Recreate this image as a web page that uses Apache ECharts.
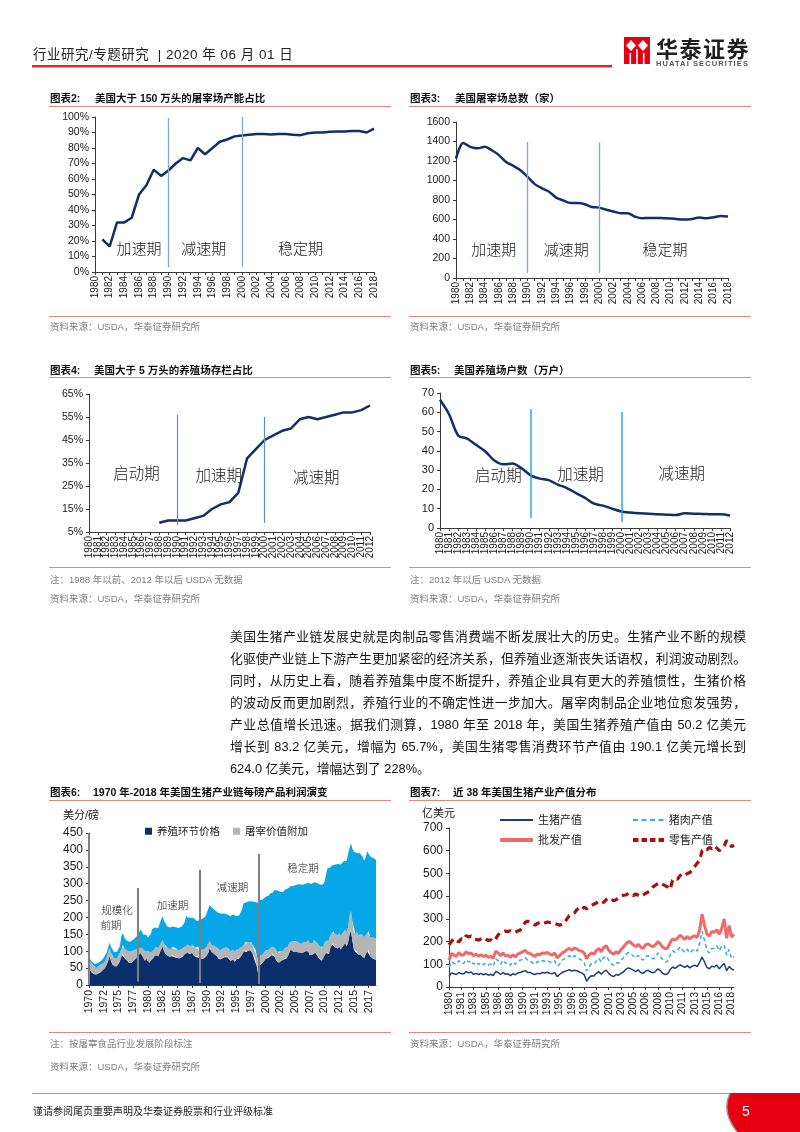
<!DOCTYPE html>
<html><head><meta charset="utf-8">
<script src="https://cdn.jsdelivr.net/npm/echarts@6/dist/echarts.min.js"></script>
<style>
html,body{margin:0;padding:0;background:#fff;}
#page{position:relative;width:800px;height:1132px;overflow:hidden;background:#fff;font-family:"Liberation Sans",Arial,"Noto Sans CJK SC",sans-serif;}
#chart{position:absolute;left:0;top:0;width:800px;height:1132px;}
.a{position:absolute;white-space:nowrap;line-height:1;}
.ttl{font-size:10.5px;font-weight:bold;color:#111;}
.src{font-size:9.5px;color:#7f7f7f;}
.hl{position:absolute;height:1px;background:#e4877b;}
.unit{font-size:11px;color:#222;}
.para{position:absolute;left:230px;width:516px;font-size:12.8px;line-height:13px;color:#151515;text-align:justify;text-align-last:justify;}
</style></head>
<body>
<div id="page">
<div id="chart"></div>

<!-- header -->
<div class="a" style="left:33px;top:48px;font-size:13.5px;color:#222;letter-spacing:0.5px;">行业研究/专题研究 &nbsp;| 2020 年 06 月 01 日</div>
<div style="position:absolute;left:32px;top:65px;width:580px;height:1.5px;background:#e0251b;"></div>
<div style="position:absolute;left:32px;top:66.5px;width:580px;height:1px;background:#d9b0aa;"></div>
<svg style="position:absolute;left:0;top:0" width="800" height="1132">
  <rect x="624" y="37" width="26" height="27" fill="#e60012"/>
  <polygon points="631,40 636,45.5 631,51 626,45.5" fill="#fff"/>
  <polygon points="643,40 648,45.5 643,51 638,45.5" fill="#fff"/>
  <rect x="629.5" y="53" width="1.6" height="11" fill="#fff"/>
  <rect x="636.2" y="49" width="1.6" height="15" fill="#fff"/>
  <rect x="642.9" y="53" width="1.6" height="11" fill="#fff"/>
  <path d="M730 1093 L800 1093 L800 1132 L737 1132 Q721 1112 730 1093 Z" fill="#e50012"/>
  <path d="M730 1093 Q721 1112 737 1132" fill="none" stroke="#9a9a9a" stroke-width="1.5"/>
</svg>
<div class="a" style="left:656px;top:36px;font-size:22px;font-weight:bold;color:#1e1e1e;font-family:'Noto Sans CJK SC',sans-serif;letter-spacing:1.5px;">华泰证券</div>
<div class="a" style="left:656px;top:60px;font-size:7.5px;font-weight:bold;color:#555;letter-spacing:1.1px;">HUATAI SECURITIES</div>

<!-- chart titles -->
<div class="a ttl" style="left:50px;top:92.7px;">图表2:</div>
<div class="a ttl" style="left:95px;top:92.7px;">美国大于 150 万头的屠宰场产能占比</div>
<div class="hl" style="left:49px;top:105.5px;width:342px;"></div>
<div class="a ttl" style="left:410px;top:92.7px;">图表3:</div>
<div class="a ttl" style="left:455px;top:92.7px;">美国屠宰场总数（家）</div>
<div class="hl" style="left:409px;top:105.5px;width:342px;"></div>

<div class="hl" style="left:49px;top:315.5px;width:342px;"></div>
<div class="a src" style="left:50px;top:321.5px;">资料来源：USDA，华泰证券研究所</div>
<div class="hl" style="left:409px;top:315.5px;width:342px;"></div>
<div class="a src" style="left:410px;top:321.5px;">资料来源：USDA，华泰证券研究所</div>

<div class="a ttl" style="left:50px;top:364.7px;">图表4:</div>
<div class="a ttl" style="left:94px;top:364.7px;">美国大于 5 万头的养殖场存栏占比</div>
<div class="hl" style="left:49px;top:377px;width:342px;"></div>
<div class="a ttl" style="left:410px;top:364.7px;">图表5:</div>
<div class="a ttl" style="left:454px;top:364.7px;">美国养殖场户数（万户）</div>
<div class="hl" style="left:409px;top:377px;width:342px;"></div>

<div class="hl" style="left:49px;top:567px;width:342px;"></div>
<div class="a src" style="left:50px;top:574.5px;">注：1988 年以前、2012 年以后 USDA 无数据</div>
<div class="a src" style="left:50px;top:593.5px;">资料来源：USDA，华泰证券研究所</div>
<div class="hl" style="left:409px;top:567px;width:342px;"></div>
<div class="a src" style="left:410px;top:574.5px;">注：2012 年以后 USDA 无数据</div>
<div class="a src" style="left:410px;top:593.5px;">资料来源：USDA，华泰证券研究所</div>

<!-- paragraph -->
<div class="para" style="top:629.5px;">美国生猪产业链发展史就是肉制品零售消费端不断发展壮大的历史。生猪产业不断的规模</div>
<div class="para" style="top:651.5px;">化驱使产业链上下游产生更加紧密的经济关系，但养殖业逐渐丧失话语权，利润波动剧烈。</div>
<div class="para" style="top:673.5px;">同时，从历史上看，随着养殖集中度不断提升，养殖企业具有更大的养殖惯性，生猪价格</div>
<div class="para" style="top:695.5px;">的波动反而更加剧烈，养殖行业的不确定性进一步加大。屠宰肉制品企业地位愈发强势，</div>
<div class="para" style="top:717.5px;">产业总值增长迅速。据我们测算，1980 年至 2018 年，美国生猪养殖产值由 50.2 亿美元</div>
<div class="para" style="top:740px;">增长到 83.2 亿美元，增幅为 65.7%，美国生猪零售消费环节产值由 190.1 亿美元增长到</div>
<div class="para" style="top:762px;text-align:left;text-align-last:left;">624.0 亿美元，增幅达到了 228%。</div>

<!-- bottom charts titles -->
<div class="a ttl" style="left:50px;top:786.7px;">图表6:</div>
<div class="a ttl" style="left:93px;top:786.7px;">1970 年-2018 年美国生猪产业链每磅产品利润演变</div>
<div class="hl" style="left:49px;top:800px;width:342px;"></div>
<div class="a ttl" style="left:410px;top:786.7px;">图表7:</div>
<div class="a ttl" style="left:453px;top:786.7px;">近 38 年美国生猪产业产值分布</div>
<div class="hl" style="left:409px;top:800px;width:342px;"></div>
<div class="a unit" style="left:63px;top:809.5px;">美分/磅</div>
<div class="a unit" style="left:422px;top:807.5px;">亿美元</div>

<div class="hl" style="left:49px;top:1031.5px;width:342px;"></div>
<div class="a src" style="left:50px;top:1038.5px;">注：按屠宰食品行业发展阶段标注</div>
<div class="a src" style="left:50px;top:1061.5px;">资料来源：USDA，华泰证券研究所</div>
<div class="hl" style="left:409px;top:1031.5px;width:342px;"></div>
<div class="a src" style="left:410px;top:1038.5px;">资料来源：USDA，华泰证券研究所</div>

<!-- footer -->
<div style="position:absolute;left:32px;top:1092.5px;width:698px;height:1.5px;background:#9a9a9a;"></div>
<div class="a" style="left:33px;top:1107px;font-size:10px;color:#222;">谨请参阅尾页重要声明及华泰证券股票和行业评级标准</div>
<div class="a" style="left:742px;top:1104px;font-size:14px;color:#fff;">5</div>
</div>

<script>
// ---------------- data ----------------
// Chart 2: share of capacity of plants > 1.5 million head (%), 1980-2018
const years2 = ['1980','1981','1982','1983','1984','1985','1986','1987','1988','1989','1990','1991','1992','1993','1994','1995','1996','1997','1998','1999','2000','2001','2002','2003','2004','2005','2006','2007','2008','2009','2010','2011','2012','2013','2014','2015','2016','2017','2018'];
const share150 = [null,21,16.5,32,32,35,50,56,66,62,65.5,70,73.5,72,80,76,80,84,85.5,87.5,88,88.5,89,89,88.7,89,89,88.5,88.3,89.5,90,90,90.5,90.7,90.7,91,91,90,92.5];
// Chart 3: number of US slaughter plants, 1980-2018
const plants = [1225,1385,1345,1330,1345,1310,1260,1190,1150,1105,1038,963,920,885,825,795,768,768,756,728,722,700,682,664,664,630,613,616,616,613,610,603,600,606,620,613,623,637,630];
// Chart 4/5 categories 1980-2012
const years4 = ['1980','1981','1982','1983','1984','1985','1986','1987','1988','1989','1990','1991','1992','1993','1994','1995','1996','1997','1998','1999','2000','2001','2002','2003','2004','2005','2006','2007','2008','2009','2010','2011','2012'];
const share50k = [null,null,null,null,null,null,null,null,9,10,10,10,11,12,15,17,18,22,37,41,45,47,49,50,54,55,54,55,56,57,57,58,60];
const farms = [66.5,59,48,46.3,43,39.7,35,33,33.4,31,27.3,25.6,24.8,22.5,20.7,18.1,15.6,12.6,11.6,10,8.6,8,7.6,7.4,7.1,6.9,6.7,7.6,7.4,7.3,7.1,7.1,6.5];

// Chart 6: quarterly 1970Q1-2018Q4, cents per pound
const farmPrice6 = [
50,42,36,34, 31,30,33,36, 38,42,48,50, 60,72,85,70, 60,55,58,55, 62,70,90,95, 80,75,72,66, 65,66,70,75, 78,85,90,95, 88,80,72,78,
70,65,72,85, 80,88,90,85, 95,105,114,100, 92,88,86,82, 85,88,82,84, 80,78,80,82, 85,90,100,96, 92,90,96,88, 85,82,86,80, 76,80,78,82,
86,95,110,100, 95,92,90,85, 78,75,78,80, 82,85,82,80, 72,70,75,68, 76,80,78,82, 90,100,102,98, 100,105,102,95, 80,78,55,32, 58,62,66,72,
78,82,80,85, 88,92,85,75, 68,65,70,72, 75,80,78,82, 95,105,100,98, 100,98,95,96, 92,95,98,100, 96,100,88,85, 90,100,95,88, 80,75,72,76,
88,95,98,92, 110,120,124,112, 110,108,114,105, 112,118,124,115, 125,150,160,130, 105,98,100,90, 85,88,82,78, 90,100,105,85, 80,78,76,75];
const packerAdd6 = [
27,26,25,24, 22,21,22,22, 22,21,20,20, 22,24,25,25, 25,25,25,25, 25,25,24,24, 28,30,30,32, 34,35,32,30, 28,24,20,19, 22,25,28,27,
30,30,25,23, 24,24,24,25, 22,20,20,22, 22,24,24,24, 25,25,25,25, 25,25,25,25, 25,24,24,24, 24,24,24,25, 26,26,27,27, 28,29,28,28,
28,28,20,20, 22,24,24,25, 27,28,28,28, 28,27,27,28, 28,30,30,30, 28,30,30,28, 24,24,24,25, 26,24,25,26, 25,28,32,39, 28,26,25,25,
25,25,24,24, 24,24,26,28, 30,30,30,30, 28,30,30,30, 30,29,30,32, 30,31,32,30, 30,30,29,30, 32,34,34,34, 34,34,34,36, 38,38,38,38,
36,36,38,40, 38,36,35,38, 38,40,40,40, 40,40,40,42, 45,55,59,58, 48,54,58,58, 60,62,64,64, 58,56,54,56, 60,62,62,64];
const retailAdd6 = [
6,7,8,8, 9,10,10,10, 10,12,13,15, 14,14,15,18, 20,18,18,18, 20,20,32,35, 32,30,28,28, 29,30,32,34, 36,40,45,50, 48,44,48,44,
40,50,55,58, 60,58,57,58, 64,68,70,68, 68,62,62,64, 62,60,62,62, 66,66,66,66, 69,72,82,80, 84,85,83,85, 82,82,81,84, 85,88,92,92,
99,102,106,112, 110,108,106,106, 108,108,106,104, 102,98,100,102, 104,106,104,106, 100,98,98,100, 110,118,120,122, 118,119,120,126, 138,140,158,172, 166,164,162,158,
158,156,160,162, 160,158,170,176, 182,184,176,172, 172,172,176,174, 162,158,162,164, 166,168,170,172, 174,172,170,170, 172,168,178,180, 172,170,176,178, 182,184,184,184,
182,180,210,212, 200,198,198,206, 208,210,205,212, 210,208,206,210, 218,200,201,215, 242,240,232,238, 245,240,234,226, 230,240,236,240, 238,236,235,232];

// Chart 7: every 4 months 1980-01 .. 2018-09, 100 million USD
const hogValue = [
47,62,58, 55,64,58, 58,68,62, 66,55,60, 55,60,54, 58,52,56, 50,68,64, 55,64,56, 58,50,58, 54,62,64,
68,72,64, 64,58,55, 60,58,64, 62,65,60, 58,64,46, 55,64,68, 72,76,70, 74,72,66, 62,55,25, 40,50,48,
60,68,56, 68,74,60, 50,46,55, 52,60,66, 78,84,80, 74,68,76, 64,60,70, 74,66,62, 68,80,72, 60,55,58,
76,88,82, 90,98,92, 86,94,84, 92,96,90, 108,132,110, 86,80,92, 88,96,80, 92,104,72, 90,80,74];
const porkValue = [
86,112,104, 100,116,106, 104,120,110, 116,100,110, 100,108,98, 104,96,102, 92,124,116, 100,118,104, 108,96,110, 100,114,118,
122,130,118, 116,106,100, 112,108,116, 114,118,110, 108,116,92, 100,118,124, 130,138,128, 138,132,124, 118,110,70, 88,102,100,
115,126,110, 130,136,118, 102,96,108, 104,118,128, 144,152,148, 136,128,140, 124,118,134, 138,128,124, 130,150,136, 118,110,114,
140,160,152, 160,176,164, 152,166,150, 160,168,158, 190,245,205, 160,150,170, 170,182,160, 180,185,140, 165,125,135];
const wholesaleValue = [
118,148,140, 135,152,140, 142,155,146, 150,138,145, 136,142,134, 140,130,135, 126,158,150, 138,150,136, 140,130,142, 132,145,150,
155,162,150, 148,140,135, 145,142,150, 148,152,145, 140,150,128, 138,150,155, 165,170,162, 172,168,160, 158,150,125, 140,150,145,
160,170,155, 175,182,162, 150,145,155, 148,165,176, 190,200,196, 185,178,188, 176,170,185, 190,182,178, 185,200,190, 175,168,172,
195,212,206, 215,228,220, 210,222,212, 220,226,218, 250,320,270, 232,225,245, 240,252,232, 258,300,215, 270,220,232];
const retailValue = [
186,200,214, 205,198,212, 208,226,220, 224,214,210, 206,212,218, 210,205,208, 200,212,230, 238,242,246, 244,248,240, 242,246,250,
268,284,290, 284,278,272, 280,284,278, 282,286,284, 286,280,276, 272,276,280, 300,315,318, 325,340,348, 340,352,344, 355,358,365,
370,380,378, 372,385,392, 388,380,384, 392,400,404, 405,412,408, 402,410,404, 398,405,412, 418,426,440, 448,455,460, 452,446,440,
430,470,478, 474,490,498, 492,500,504, 515,530,545, 556,600,610, 604,615,608, 620,612,600, 610,622,645, 632,618,624];

// category labels
const quarters6 = [];
for (let y = 1970; y <= 2018; y++) for (let q = 1; q <= 4; q++) quarters6.push(y + '-Q' + q);
const months7 = [];
for (let y = 1980; y <= 2018; y++) ['01','05','09'].forEach(m => months7.push(y + '-' + m));

// ---------------- chart ----------------
const LAT = '"Liberation Sans", Arial, sans-serif';
const CJK = '"Noto Sans CJK SC", sans-serif';
const AX = '#3a3a3a';
const NAVY = '#122f69';
const plain = v => String(v);

function xCat(gi, data, lab, tick, fs, margin, fmt) {
  return {type:'category', gridIndex:gi, data:data, boundaryGap:false,
    axisLine:{show:true, onZero:false, lineStyle:{color:AX, width:1}},
    axisTick:{show:true, length:3, interval:tick, lineStyle:{color:AX}},
    axisLabel:{interval:lab, rotate:90, fontSize:fs, color:'#1a1a1a', fontFamily:LAT, margin:margin, formatter:fmt || plain},
    splitLine:{show:false}};
}
function yVal(gi, min, max, interval, fs, fmt) {
  return {type:'value', gridIndex:gi, min:min, max:max, interval:interval,
    axisLine:{show:true, lineStyle:{color:AX, width:1}},
    axisTick:{show:true, length:3, lineStyle:{color:AX}},
    axisLabel:{fontSize:fs, color:'#1a1a1a', fontFamily:LAT, margin:6, formatter:fmt || plain},
    splitLine:{show:false}};
}
function vlines(color, width, segs) {
  return {silent:true, animation:false, symbol:['none','none'], label:{show:false},
    lineStyle:{color:color, width:width, type:'solid'},
    data: segs.map(s => [{coord:[s[0], s[1]]}, {coord:[s[0], s[2]]}])};
}
function tags(list, fs) {
  return {silent:true, animation:false, symbol:'circle', symbolSize:1, itemStyle:{color:'rgba(0,0,0,0)'},
    label:{show:true, position:'inside', color:'#1a1a1a', fontSize:fs, fontFamily:CJK, fontWeight:300, formatter:'{b}'},
    data: list.map(l => ({name:l[0], coord:[l[1], l[2]], label:{offset:[l[3] || 0, 0]}}))};
}

const yearFmt = v => String(v).slice(0, 4);
const SOLID2 = 'path://M0,0h33v2h-33z';
const SOLID4 = 'path://M0,0h33v4h-33z';
const DASH2 = 'path://M0,0h5v2h-5z M8.5,0h5v2h-5z M17,0h5v2h-5z M25.5,0h5v2h-5z';
const DASH4 = 'path://M0,0h5.5v4h-5.5z M8.5,0h5.5v4h-5.5z M17,0h5.5v4h-5.5z M25.5,0h5.5v4h-5.5z';
const legTxt = {fontSize:11, color:'#222', fontFamily:CJK};

const option = {
  animation:false,
  backgroundColor:'transparent',
  grid:[
    {left:95, top:117, width:279, height:155, outerBoundsMode:'none'},
    {left:456, top:122, width:272, height:156, outerBoundsMode:'none'},
    {left:89, top:394, width:281, height:138, outerBoundsMode:'none'},
    {left:440, top:393, width:290, height:135, outerBoundsMode:'none'},
    {left:89, top:833, width:287, height:152, outerBoundsMode:'none'},
    {left:449, top:828, width:285, height:159, outerBoundsMode:'none'}
  ],
  xAxis:[
    xCat(0, years2, 1, 0, 10, 4),
    xCat(1, years2, 1, 0, 10, 4),
    xCat(2, years4, 0, 0, 10, 4),
    xCat(3, years4, 0, 0, 10, 4),
    xCat(4, quarters6, 9, 9, 10.5, 5, yearFmt),
    xCat(5, months7, 4, 4, 10.5, 5, yearFmt)
  ],
  yAxis:[
    yVal(0, 0, 100, 10, 10.5, v => v + '%'),
    yVal(1, 0, 1600, 200, 10.5),
    yVal(2, 5, 65, 10, 10.5, v => v + '%'),
    yVal(3, 0, 70, 10, 11),
    yVal(4, 0, 450, 50, 12),
    yVal(5, 0, 700, 100, 12)
  ],
  legend:[
    {left:140, top:821, itemWidth:7, itemHeight:7, itemGap:13, icon:'rect',
      textStyle:{fontSize:10.5, color:'#222', fontFamily:CJK}, data:['养殖环节价格','屠宰价值附加']},
    {left:495, top:809.5, itemWidth:33, itemHeight:2, icon:SOLID2, textStyle:legTxt, data:['生猪产值']},
    {left:628, top:809.5, itemWidth:31, itemHeight:2, icon:DASH2, textStyle:legTxt, data:['猪肉产值']},
    {left:495, top:829.5, itemWidth:33, itemHeight:4, icon:SOLID4, textStyle:legTxt, data:['批发产值']},
    {left:628, top:829.5, itemWidth:31, itemHeight:4, icon:DASH4, textStyle:legTxt, data:['零售产值']}
  ],
  series:[
    {type:'line', name:'c2', xAxisIndex:0, yAxisIndex:0, data:share150, symbol:'none', connectNulls:false,
      lineStyle:{color:NAVY, width:2.5}, itemStyle:{color:NAVY},
      markLine:vlines('#7ea9d6', 1.3, [['1990', 99.5, 3], ['2000', 100, 3.5]]),
      markPoint:tags([['加速期','1986',15.5,0], ['减速期','1995',15.5,-1.5], ['稳定期','2008',15.5,0]], 15)},
    {type:'line', name:'c3', xAxisIndex:1, yAxisIndex:1, data:plants, symbol:'none', smooth:0.3,
      lineStyle:{color:NAVY, width:2.5}, itemStyle:{color:NAVY},
      markLine:vlines('#7ea9d6', 1.3, [['1990', 1395, 50], ['2000', 1390, 50]]),
      markPoint:tags([['加速期','1985',297,2], ['减速期','1995',297,3], ['稳定期','2009',297,1.5]], 15)},
    {type:'line', name:'c4', xAxisIndex:2, yAxisIndex:2, data:share50k, symbol:'none',
      lineStyle:{color:NAVY, width:2.5}, itemStyle:{color:NAVY},
      markLine:vlines('#5592cf', 1.2, [['1990', 55.9, 8], ['2000', 55, 8.9]]),
      markPoint:tags([['启动期','1985',30.6,3.5], ['加速期','1995',29.8,-2], ['减速期','2006',28.9,-1]], 15.5)},
    {type:'line', name:'c5', xAxisIndex:3, yAxisIndex:3, data:farms, symbol:'none', smooth:0.3,
      lineStyle:{color:NAVY, width:2.5}, itemStyle:{color:NAVY},
      markLine:vlines('#29aae1', 1.5, [['1990', 61.7, 5.2], ['2000', 60.1, 3.1]]),
      markPoint:tags([['启动期','1986',27.5,4], ['加速期','1995',28,4.5], ['减速期','2007',28.5,-3]], 15.5)},

    {type:'line', name:'养殖环节价格', xAxisIndex:4, yAxisIndex:4, stack:'p', data:farmPrice6, symbol:'none',
      color:'#0b2f6d', lineStyle:{width:0}, itemStyle:{color:'#0b2f6d'}, areaStyle:{color:'#0b2f6d', opacity:1}},
    {type:'line', name:'屠宰价值附加', xAxisIndex:4, yAxisIndex:4, stack:'p', data:packerAdd6, symbol:'none',
      color:'#b5b5b5', lineStyle:{width:0}, itemStyle:{color:'#b5b5b5'}, areaStyle:{color:'#b5b5b5', opacity:1}},
    {type:'line', name:'零售价值附加', xAxisIndex:4, yAxisIndex:4, stack:'p', data:retailAdd6, symbol:'none',
      color:'#05a7e6', lineStyle:{width:0}, itemStyle:{color:'#05a7e6'}, areaStyle:{color:'#05a7e6', opacity:1},
      markLine:vlines('#7f7f7f', 2, [[0, 450, 0], [33, 287, 10], [75, 341, 5], [115, 388, 3]]),
      markPoint:tags([['规模化',19,223,0], ['前期',15,178.5,0], ['加速期',57,237,-0.5], ['减速期',97,290,0.7], ['稳定期',145,346,0.5]], 10.5)},

    {type:'line', name:'生猪产值', xAxisIndex:5, yAxisIndex:5, data:hogValue, symbol:'none',
      color:'#1a3f7c', lineStyle:{color:'#1a3f7c', width:1.5}, itemStyle:{color:'#1a3f7c'}},
    {type:'line', name:'猪肉产值', xAxisIndex:5, yAxisIndex:5, data:porkValue, symbol:'none',
      color:'#35ade3', lineStyle:{color:'#35ade3', width:1.5, type:[4,3]}, itemStyle:{color:'#35ade3'}},
    {type:'line', name:'批发产值', xAxisIndex:5, yAxisIndex:5, data:wholesaleValue, symbol:'none',
      color:'#f06a6a', lineStyle:{color:'#f06a6a', width:3}, itemStyle:{color:'#f06a6a'}},
    {type:'line', name:'零售产值', xAxisIndex:5, yAxisIndex:5, data:retailValue, symbol:'none',
      color:'#a8100f', lineStyle:{color:'#a8100f', width:3.2, type:[7,5]}, itemStyle:{color:'#a8100f'}}
  ]
};

const chart = echarts.init(document.getElementById('chart'), null, {renderer:'canvas', width:800, height:1132});
chart.setOption(option);
</script>
</body></html>
